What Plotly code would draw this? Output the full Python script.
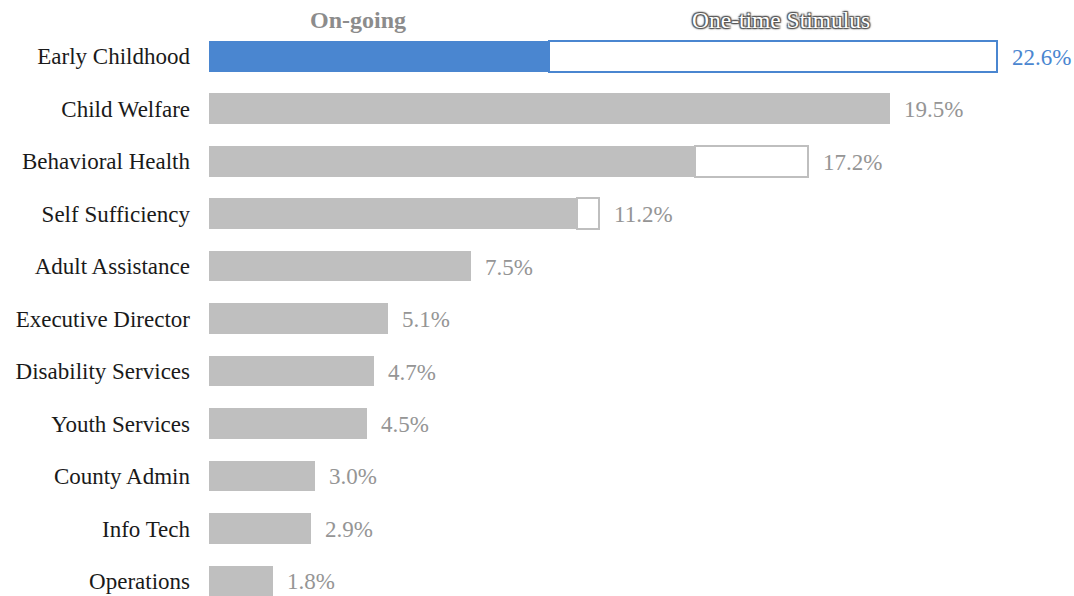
import plotly.graph_objects as go

categories = ["Early Childhood", "Child Welfare", "Behavioral Health", "Self Sufficiency",
              "Adult Assistance", "Executive Director", "Disability Services", "Youth Services",
              "County Admin", "Info Tech", "Operations"]
ongoing = [9.75, 19.5, 13.95, 10.55, 7.5, 5.1, 4.7, 4.5, 3.0, 2.9, 1.8]
one_time = [12.85, 0.0, 3.25, 0.65, 0.0, 0.0, 0.0, 0.0, 0.0, 0.0, 0.0]
total_labels = ["22.6%", "19.5%", "17.2%", "11.2%", "7.5%", "5.1%", "4.7%", "4.5%", "3.0%", "2.9%", "1.8%"]
headers = ["On-going", "One-time Stimulus"]

BLUE = "#4a86d0"
GRAY = "#bfbfbf"
LABEL_GRAY = "#959595"
FONT = "Liberation Serif"

hl = [c == "Early Childhood" for c in categories]
fill_ongoing = [BLUE if h else GRAY for h in hl]
line_onetime = [BLUE if h else GRAY for h in hl]

fig = go.Figure()
fig.add_trace(go.Bar(
    y=categories, x=ongoing, orientation="h",
    marker=dict(color=fill_ongoing, line=dict(width=0)),
    name="On-going", hoverinfo="skip",
))
fig.add_trace(go.Bar(
    y=categories, x=one_time, orientation="h",
    marker=dict(color="white", line=dict(color=line_onetime, width=2)),
    name="One-time Stimulus", hoverinfo="skip",
))

totals = [o + s for o, s in zip(ongoing, one_time)]
for c, t, lab, h in zip(categories, totals, total_labels, hl):
    fig.add_annotation(x=t, y=c, text=lab, showarrow=False, xanchor="left",
                       xshift=13, yshift=-1,
                       font=dict(family=FONT, size=23, color=BLUE if h else LABEL_GRAY))

fig.add_annotation(x=4.28, y=-0.69, text="<b>" + headers[0] + "</b>", showarrow=False,
                   font=dict(family=FONT, size=24, color="#8c8c8c"))
fig.add_annotation(x=16.4, y=-0.69, text=headers[1], showarrow=False,
                   font=dict(family=FONT, size=23.5, color="white",
                             shadow="-1px -1px 1px #555, 1px -1px 1px #555, -1px 1px 1px #555, 1px 1px 1px #555, 0px 0px 3px #444"))

fig.update_layout(
    barmode="stack", bargap=0.41, showlegend=False,
    width=1074, height=596,
    margin=dict(l=209, r=0, t=0, b=0),
    plot_bgcolor="white", paper_bgcolor="white",
    xaxis=dict(range=[0, 24.82], visible=False),
    yaxis=dict(type="category", range=[10.286, -1.067], showgrid=False, zeroline=False,
               showline=False, ticks="", ticklabelstandoff=18,
               tickfont=dict(family=FONT, size=23, color="#1a1a1a")),
)

fig.write_html("out.html")
